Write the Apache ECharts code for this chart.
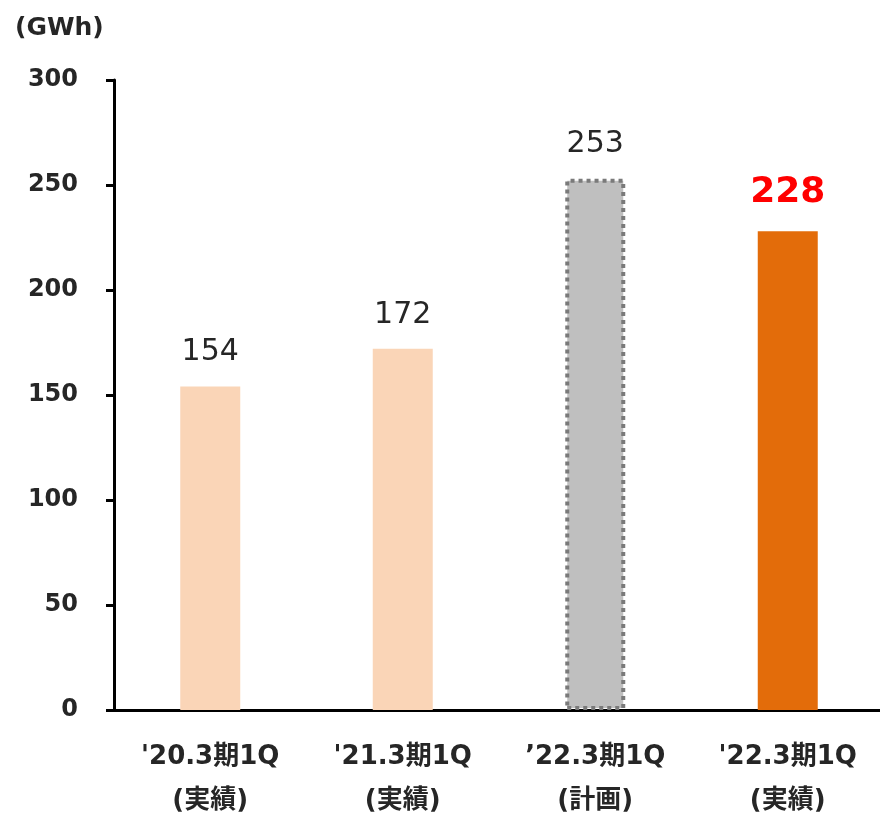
<!DOCTYPE html>
<html>
<head>
<meta charset="utf-8">
<script src="https://cdn.jsdelivr.net/npm/echarts@6/dist/echarts.min.js"></script>
<style>
  html, body { margin: 0; padding: 0; background: #fff; }
  #chart { width: 880px; height: 815px; }
</style>
</head>
<body>
<div id="chart"></div>
<script>
// Quarterly generation volume (GWh)
const categories = ["'20.3期1Q\n(実績)", "'21.3期1Q\n(実績)", "’22.3期1Q\n(計画)", "'22.3期1Q\n(実績)"];
const values = [154, 172, 253, 228];
const yTicks = [0, 50, 100, 150, 200, 250, 300];
const unitLabel = '(GWh)';

const FONT = '"DejaVu Sans", "Noto Sans CJK JP", sans-serif';

const barStyles = [
  { color: '#fad5b7' },
  { color: '#fad5b7' },
  { color: '#bfbfbf', borderColor: '#7a7a7a', borderWidth: 4, borderType: [4, 4] },
  { color: '#e36c0a' }
];
const labelStyles = [
  { color: '#262626', fontSize: 30, fontWeight: 'normal', distance: 19 },
  { color: '#262626', fontSize: 30, fontWeight: 'normal', distance: 19 },
  { color: '#262626', fontSize: 30, fontWeight: 'normal', distance: 19 },
  { color: '#ff0000', fontSize: 36, fontWeight: 'bold', distance: 21 }
];

const chart = echarts.init(document.getElementById('chart'), null, { renderer: 'canvas' });

chart.setOption({
  animation: false,
  textStyle: { fontFamily: FONT },
  title: {
    text: unitLabel,
    left: 10,
    top: 11,
    textStyle: { fontFamily: FONT, fontSize: 25, fontWeight: 'bold', color: '#262626' }
  },
  grid: {
    left: 114, right: -4, top: 80, bottom: 105,
    containLabel: false, outerBoundsMode: 'none'
  },
  xAxis: {
    type: 'category',
    data: categories,
    axisLine: { show: true, lineStyle: { color: '#000', width: 3 } },
    axisTick: { show: false },
    axisLabel: {
      fontFamily: FONT, fontSize: 26, fontWeight: 'bold', color: '#262626',
      lineHeight: 44, margin: 25, interval: 0
    }
  },
  yAxis: {
    type: 'value',
    min: yTicks[0],
    max: yTicks[yTicks.length - 1],
    interval: 50,
    splitLine: { show: false },
    axisLine: { show: true, lineStyle: { color: '#000', width: 3 } },
    axisTick: { show: true, inside: false, length: 8, lineStyle: { color: '#000', width: 3 } },
    axisLabel: {
      fontFamily: FONT, fontSize: 24, fontWeight: 'bold', color: '#262626', margin: 36
    }
  },
  series: [{
    type: 'bar',
    barWidth: 60,
    data: values.map((v, i) => ({
      value: v,
      itemStyle: barStyles[i],
      label: {
        show: true,
        position: 'top',
        fontFamily: FONT,
        ...labelStyles[i]
      }
    }))
  }]
});
</script>
</body>
</html>
